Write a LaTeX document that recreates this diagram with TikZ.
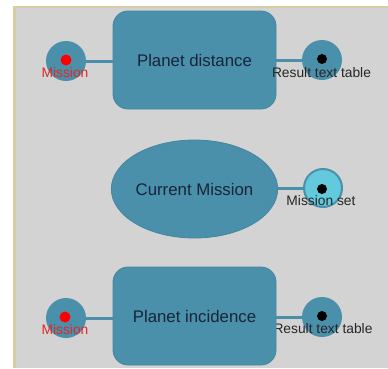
\documentclass[tikz,border=0pt]{standalone}
\usepackage{fontspec}
\setmainfont{Liberation Sans}
\usetikzlibrary{shapes.geometric}
\definecolor{panel}{HTML}{D3D3D3}
\definecolor{edgebeige}{HTML}{D8CCA6}
\definecolor{steel}{HTML}{4A90AA}
\definecolor{steeldark}{HTML}{4586A0}
\definecolor{cyanfill}{HTML}{62CADC}
\definecolor{navytext}{HTML}{18243A}
\definecolor{redlabel}{HTML}{E02828}
\tikzset{
  procbox/.style={draw=steeldark, line width=0.8pt, fill=steel, rounded corners=15pt,
    minimum width=163pt, minimum height=98pt, inner sep=0pt,
    font=\fontsize{16.8}{18}\selectfont, text=navytext},
  procell/.style={ellipse, draw=steeldark, line width=0.8pt, fill=steel,
    minimum width=163pt, minimum height=98pt, inner sep=0pt,
    font=\fontsize{16.8}{18}\selectfont, text=navytext},
  port/.style={circle, fill=steel, minimum size=40pt, inner sep=0pt},
  portlight/.style={circle, fill=cyanfill, draw=steel, line width=2pt, minimum size=38pt, inner sep=0pt},
  reddot/.style={circle, fill=red, minimum size=11pt, inner sep=0pt},
  blackdot/.style={circle, fill=black, minimum size=10pt, inner sep=0pt},
  redlab/.style={font=\fontsize{13.8}{15}\selectfont, text=redlabel, inner sep=0pt},
  blacklab/.style={font=\fontsize{13.8}{15}\selectfont, text=black!85, inner sep=0pt},
  wire/.style={draw=steel, line width=3pt}
}
\begin{document}
\begin{tikzpicture}[x=1pt,y=-1pt]
\useasboundingbox (0,0) rectangle (388,368);
\fill[white] (0,0) rectangle (388,368);
\fill[panel] (13,6) rectangle (388,368);
\fill[edgebeige] (13,6) rectangle (16,368);
\fill[edgebeige] (13,6) rectangle (388,8);

% top row
\node[port] (m1) at (66,61) {};
\node[port] (r1) at (322,60) {};
\node[procbox] (pd) at (194.5,60) {Planet distance};
\draw[wire] (m1) -- (m1 -| pd.west);
\draw[wire] (pd.east |- r1) -- (r1);
\node[reddot] (d1) at (66,60) {};
\node[blackdot] (b1) at (322,59) {};
\node[redlab] (l1) at (65,73) {Mission};
\node[blacklab] (t1) at (321.5,72.5) {Result text table};

% middle row
\node[procell] (cm) at (194.5,189) {Current Mission};
\node[portlight] (s2) at (323,188) {};
\draw[wire] (cm.east |- s2) -- (s2);
\node[blackdot] (b2) at (322,189) {};
\node[blacklab] (t2) at (321,201) {Mission set};

% bottom row
\node[port] (m3) at (66,318) {};
\node[port] (r3) at (322,317) {};
\node[blacklab] (t3) at (323,328.5) {Result text table};
\node[procbox] (pi) at (194.5,316) {Planet incidence};
\draw[wire] (m3) -- (m3 -| pi.west);
\draw[wire] (pi.east |- r3) -- (r3);
\node[reddot] (d3) at (65,317) {};
\node[blackdot] (b3) at (322,316) {};
\node[redlab] (l3) at (65,329.5) {Mission};
\end{tikzpicture}
\end{document}
